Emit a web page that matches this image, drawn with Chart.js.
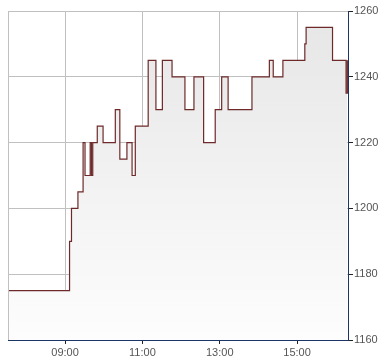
<!DOCTYPE html>
<html><head><meta charset="utf-8">
<script src="https://cdn.jsdelivr.net/npm/chart.js@4"></script>
<style>html,body{margin:0;padding:0;background:#fff;} #wrap{width:390px;height:364px;position:relative;}</style>
</head><body><div id="wrap"><canvas id="c"></canvas></div>
<script>
// step-change times (value holds from this time until the next)
const times = ["07:31:30","09:07","09:10","09:20","09:28","09:31","09:39","09:41","09:43","09:50","09:59",
  "10:18","10:25","10:36","10:44","10:49","11:09","11:21","11:31","11:46","12:06","12:20","12:35","12:53",
  "13:03","13:13","13:50","14:17","14:23","14:38","15:12","15:14","15:55","16:16","16:18"];
const prices = [1175,1190,1200,1205,1220,1210,1220,1210,1220,1225,1220,
  1230,1215,1220,1210,1225,1245,1230,1245,1240,1230,1240,1220,1230,
  1240,1230,1240,1245,1240,1245,1250,1255,1245,1235,1245];
const xTickLabels = ["09:00","11:00","13:00","15:00"];
const yTickValues = [1160,1180,1200,1220,1240,1260];
const xRange = ["07:31:30","16:19"];

function toMin(s){const p=s.split(":").map(Number);return p[0]*60+p[1]+(p[2]||0)/60;}
function fmt(m){const h=Math.floor(m/60),mm=Math.round(m-h*60);return String(h).padStart(2,"0")+":"+String(mm).padStart(2,"0");}

const points = times.map((t,i)=>({x:toMin(t),y:prices[i]}));

const frame = {
  id:'frame',
  afterDatasetsDraw(chart){
    const {ctx,chartArea:a}=chart;
    ctx.save();ctx.strokeStyle='#c0c0c0';ctx.lineWidth=1;
    ctx.beginPath();ctx.moveTo(Math.round(a.left)+0.5,a.top);ctx.lineTo(Math.round(a.left)+0.5,a.bottom);ctx.stroke();
    ctx.restore();
  }
};

new Chart(document.getElementById('c'),{
  type:'line',
  data:{datasets:[{
    data:points,
    stepped:'before',
    borderColor:'#6e2a2a',
    borderWidth:1.2,
    pointRadius:0,
    fill:'start',
    backgroundColor(ctx){
      const a=ctx.chart.chartArea; if(!a) return '#eee';
      const g=ctx.chart.ctx.createLinearGradient(0,a.top,0,a.bottom);
      g.addColorStop(0,'#e6e6e6');g.addColorStop(1,'#fdfdfd');return g;
    }
  }]},
  options:{
    responsive:true,maintainAspectRatio:false,animation:false,
    layout:{padding:{left:8,top:11,right:0,bottom:0}},
    plugins:{legend:{display:false},tooltip:{enabled:false}},
    scales:{
      x:{type:'linear',position:'bottom',min:toMin(xRange[0]),max:toMin(xRange[1]),z:1,
        afterBuildTicks(s){s.ticks=xTickLabels.map(l=>({value:toMin(l)}));},
        afterFit(s){s.height=24;},
        grid:{color:'#c0c0c0',tickColor:'#222',tickLength:4,lineWidth:1},
        border:{color:'#1c3566',width:1},
        ticks:{callback:v=>fmt(v),color:'#555',font:{family:'"Liberation Sans", Arial, sans-serif',size:11},padding:2,maxRotation:0}
      },
      y:{position:'right',min:yTickValues[0],max:yTickValues[yTickValues.length-1],z:1,
        afterBuildTicks(s){s.ticks=yTickValues.map(v=>({value:v}));},
        afterFit(s){s.width=42;},
        grid:{color:'#c0c0c0',tickColor:'#222',tickLength:5,lineWidth:1},
        border:{color:'#1c3566',width:1},
        ticks:{callback:v=>String(v),color:'#555',font:{family:'"Liberation Sans", Arial, sans-serif',size:11},padding:1}
      }
    }
  },
  plugins:[frame]
});
</script></body></html>
